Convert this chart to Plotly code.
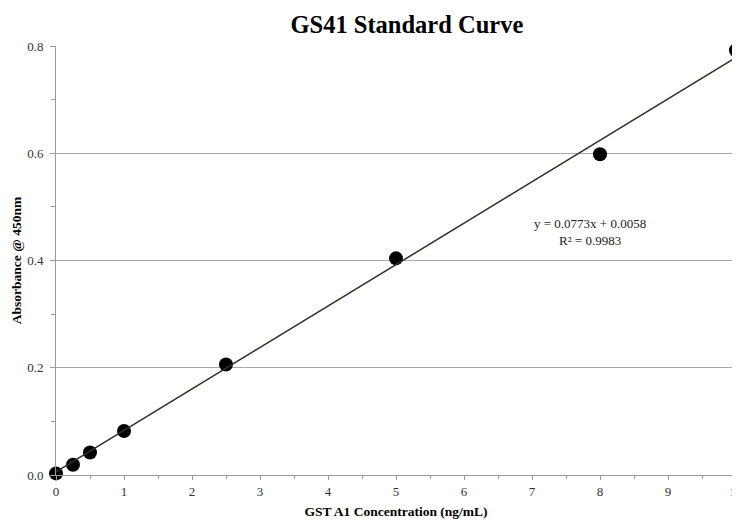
import plotly.graph_objects as go

conc = [0, 0.25, 0.5, 1, 2.5, 5, 8, 10]
absorb = [0.003, 0.019, 0.042, 0.082, 0.206, 0.404, 0.598, 0.792]
slope = 0.0773
intercept = 0.0058
r2 = 0.9983
x_ticks = [0, 1, 2, 3, 4, 5, 6, 7, 8, 9, 10]
y_ticks = [0.0, 0.2, 0.4, 0.6, 0.8]

serif = "Liberation Serif, Times New Roman, serif"

line_x = [min(conc), max(conc)]
line_y = [slope * v + intercept for v in line_x]

fig = go.Figure()
fig.add_trace(go.Scatter(x=conc, y=absorb, mode="markers",
                         marker=dict(color="black", size=14),
                         cliponaxis=False, showlegend=False))
fig.add_trace(go.Scatter(x=line_x, y=line_y, mode="lines",
                         line=dict(color="#2a3324", width=1.5),
                         cliponaxis=False, showlegend=False))

fig.add_annotation(x=7.85, y=0.453, xref="x", yref="y",
                   text=f"y = {slope}x + {intercept}<br>R² = {r2}",
                   showarrow=False, align="center",
                   font=dict(family=serif, size=13, color="#222"))

fig.update_layout(
    width=732, height=513,
    margin=dict(l=48, r=4, t=38, b=46),
    paper_bgcolor="white", plot_bgcolor="white",
    title=dict(text="<b>GS41 Standard Curve</b>", xref="paper", x=0.516,
               xanchor="center",
               yref="container", y=1 - 16 / 513, yanchor="middle",
               font=dict(family=serif, size=24.5, color="black")),
    font=dict(family=serif, size=13, color="#333"),
)
fig.update_xaxes(range=[0, 10], tickvals=x_ticks, showgrid=False,
                 showline=True, linecolor="#999", linewidth=1,
                 ticks="outside", ticklen=4, tickcolor="#999",
                 minor=dict(dtick=0.5, ticks="outside", ticklen=3, tickcolor="#999"),
                 zeroline=False, ticklabeloverflow="allow", automargin=False,
                 tickfont=dict(family=serif, size=13, color="#333"),
                 title=dict(text="<b>GST A1 Concentration (ng/mL)</b>", standoff=8,
                            font=dict(family=serif, size=13.5, color="black")))
fig.update_yaxes(range=[0, 0.8], tickvals=y_ticks, tickformat=".1f",
                 showgrid=True, gridcolor="#a8a8a8", gridwidth=1,
                 showline=True, linecolor="#999", linewidth=1,
                 ticks="outside", ticklen=5, tickcolor="#999",
                 minor=dict(dtick=0.1, ticks="outside", ticklen=4, tickcolor="#999"),
                 zeroline=False, automargin=False, ticklabelstandoff=4,
                 tickfont=dict(family=serif, size=13, color="#333"),
                 title=dict(text="<b>Absorbance @ 450nm</b>", standoff=2,
                            font=dict(family=serif, size=13.5, color="black")))

fig.write_html("out.html")
